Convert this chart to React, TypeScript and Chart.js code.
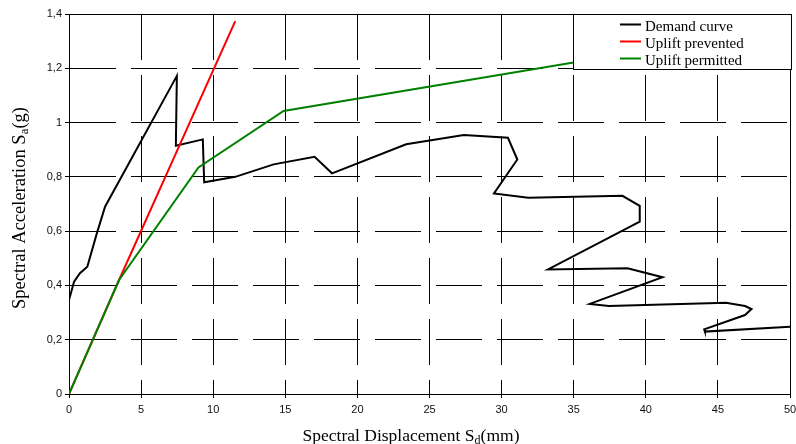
import React, { useEffect, useRef } from "react";
import { Chart, registerables } from "chart.js";

Chart.register(...registerables);

// ---- Data ----
const demandX = [0, 0.35, 0.76, 1.27, 1.92, 2.5, 7.48, 7.41, 9.28, 9.375, 11.53, 14.19, 17.03, 18.24, 23.38, 27.38, 30.44, 31.09, 29.47, 31.85, 38.38, 39.58, 39.58, 33.22, 38.73, 41.16, 36.11, 37.45, 45.56, 46.88, 47.33, 46.88, 44.05, 44.1, 50.18];
const demandY = [0.346, 0.414, 0.445, 0.469, 0.59, 0.69, 1.172, 0.915, 0.938, 0.78, 0.8, 0.846, 0.874, 0.813, 0.92, 0.954, 0.944, 0.864, 0.739, 0.723, 0.73, 0.693, 0.635, 0.459, 0.463, 0.43, 0.332, 0.324, 0.336, 0.324, 0.313, 0.291, 0.238, 0.23, 0.248];

const preventedX = [0, 3.47, 11.53];
const preventedY = [0, 0.42, 1.374];

const permittedX = [0, 3.47, 8.98, 14.88, 35.09];
const permittedY = [0, 0.42, 0.835, 1.043, 1.222];

const seriesNames = ["Demand curve", "Uplift prevented", "Uplift permitted"];
const seriesColors = ["#000000", "#ff0000", "#008000"];

const xTicks = [0, 5, 10, 15, 20, 25, 30, 35, 40, 45, 50];
const yTicks = [0, 0.2, 0.4, 0.6, 0.8, 1, 1.2, 1.4];
const yTickLabels = ["0", "0,2", "0,4", "0,6", "0,8", "1", "1,2", "1,4"];

const xTitle = ["Spectral Displacement S", "d", "(mm)"];
const yTitle = ["Spectral Acceleration S", "a", "(g)"];

const toPoints = (xs: number[], ys: number[]) => xs.map((x, i) => ({ x, y: ys[i] }));

const SERIF = '"Liberation Serif", "Times New Roman", serif';

function drawSubTitle(ctx: CanvasRenderingContext2D, parts: string[], cx: number, baseline: number, size: number) {
  const big = size + "px " + SERIF;
  const small = Math.round(size * 0.68) + "px " + SERIF;
  ctx.font = big;
  const w1 = ctx.measureText(parts[0]).width;
  const w3 = ctx.measureText(parts[2]).width;
  ctx.font = small;
  const w2 = ctx.measureText(parts[1]).width;
  const total = w1 + w2 + w3;
  let x = cx - total / 2;
  ctx.fillStyle = "#000";
  ctx.textAlign = "left";
  ctx.textBaseline = "alphabetic";
  ctx.font = big;
  ctx.fillText(parts[0], x, baseline);
  x += w1;
  ctx.font = small;
  ctx.fillText(parts[1], x, baseline + 3);
  x += w2;
  ctx.font = big;
  ctx.fillText(parts[2], x, baseline);
}

const framePlugin = {
  id: "frame",
  beforeDatasetsDraw(chart: any) {
    const { ctx, chartArea } = chart;
    ctx.save();
    ctx.strokeStyle = "#000";
    ctx.lineWidth = 1;
    ctx.setLineDash([]);
    ctx.strokeRect(
      Math.round(chartArea.left) + 0.5,
      Math.round(chartArea.top) + 0.5,
      Math.round(chartArea.right - chartArea.left),
      Math.round(chartArea.bottom - chartArea.top)
    );
    ctx.restore();
  },
};

const decorPlugin = {
  id: "decor",
  afterDraw(chart: any) {
    const { ctx } = chart;
    ctx.save();
    // axis titles
    drawSubTitle(ctx, xTitle, 411, 441, 17.5);
    ctx.save();
    ctx.translate(25, 208);
    ctx.rotate(-Math.PI / 2);
    drawSubTitle(ctx, yTitle, 0, 0, 18.5);
    ctx.restore();

    // legend box
    ctx.fillStyle = "#fff";
    ctx.fillRect(573.5, 14.5, 218, 55);
    ctx.strokeStyle = "#000";
    ctx.lineWidth = 1;
    ctx.strokeRect(573.5, 14.5, 218, 55);
    const baselines = [31, 48, 65];
    ctx.font = "15px " + SERIF;
    ctx.textAlign = "left";
    ctx.textBaseline = "alphabetic";
    seriesNames.forEach((name, i) => {
      const b = baselines[i];
      ctx.strokeStyle = seriesColors[i];
      ctx.lineWidth = 2;
      ctx.beginPath();
      ctx.moveTo(620, b - 6.5);
      ctx.lineTo(641, b - 6.5);
      ctx.stroke();
      ctx.fillStyle = "#000";
      ctx.fillText(name, 645, b);
    });
    ctx.restore();
  },
};

export default function App() {
  const canvasRef = useRef<HTMLCanvasElement | null>(null);

  useEffect(() => {
    if (!canvasRef.current) return;
    const tickFont = { family: '"Liberation Sans", Arial, sans-serif', size: 11 };
    const chart = new Chart(canvasRef.current, {
      type: "scatter",
      data: {
        datasets: [
          {
            label: seriesNames[0],
            data: toPoints(demandX, demandY),
            borderColor: seriesColors[0],
            borderWidth: 2,
            showLine: true,
            pointRadius: 0,
            tension: 0,
            order: 3,
          },
          {
            label: seriesNames[1],
            data: toPoints(preventedX, preventedY),
            borderColor: seriesColors[1],
            borderWidth: 2,
            showLine: true,
            pointRadius: 0,
            tension: 0,
            order: 2,
          },
          {
            label: seriesNames[2],
            data: toPoints(permittedX, permittedY),
            borderColor: seriesColors[2],
            borderWidth: 2,
            showLine: true,
            pointRadius: 0,
            tension: 0,
            order: 1,
          },
        ],
      },
      options: {
        responsive: false,
        animation: false,
        devicePixelRatio: 1,
        layout: { padding: { top: 14, right: 0, left: 0, bottom: 0 } },
        plugins: {
          legend: { display: false },
          tooltip: { enabled: false },
          title: { display: false },
        },
        scales: {
          x: {
            type: "linear",
            min: xTicks[0],
            max: xTicks[xTicks.length - 1],
            afterFit: (s: any) => {
              s.height = 50;
              s.paddingRight = 6;
            },
            afterBuildTicks: (s: any) => {
              s.ticks = xTicks.map((v) => ({ value: v }));
            },
            ticks: {
              color: "#111",
              font: tickFont,
              padding: 5,
              maxRotation: 0,
              callback: (v: any) => String(v),
            },
            grid: {
              color: "#000",
              lineWidth: 1,
              tickLength: 4,
              tickColor: "#000",
            },
            border: { display: true, color: "#000", width: 1, dash: [46, 15] },
          },
          y: {
            type: "linear",
            min: yTicks[0],
            max: yTicks[yTicks.length - 1],
            afterFit: (s: any) => {
              s.width = 69;
            },
            afterBuildTicks: (s: any) => {
              s.ticks = yTicks.map((v) => ({ value: v }));
            },
            ticks: {
              color: "#111",
              font: tickFont,
              padding: 3,
              callback: (v: any) => {
                const idx = yTicks.findIndex((t) => Math.abs(t - Number(v)) < 1e-6);
                return idx >= 0 ? yTickLabels[idx] : "";
              },
            },
            grid: {
              color: "#000",
              lineWidth: 1,
              tickLength: 4,
              tickColor: "#000",
            },
            border: { display: true, color: "#000", width: 1, dash: [46, 15] },
          },
        },
      },
      plugins: [framePlugin, decorPlugin],
    } as any);
    return () => chart.destroy();
  }, []);

  return (
    <div style={{ position: "absolute", left: 0, top: 0, width: 796, height: 444, background: "#fff" }}>
      <canvas ref={canvasRef} width={796} height={444} style={{ display: "block" }} />
    </div>
  );
}
